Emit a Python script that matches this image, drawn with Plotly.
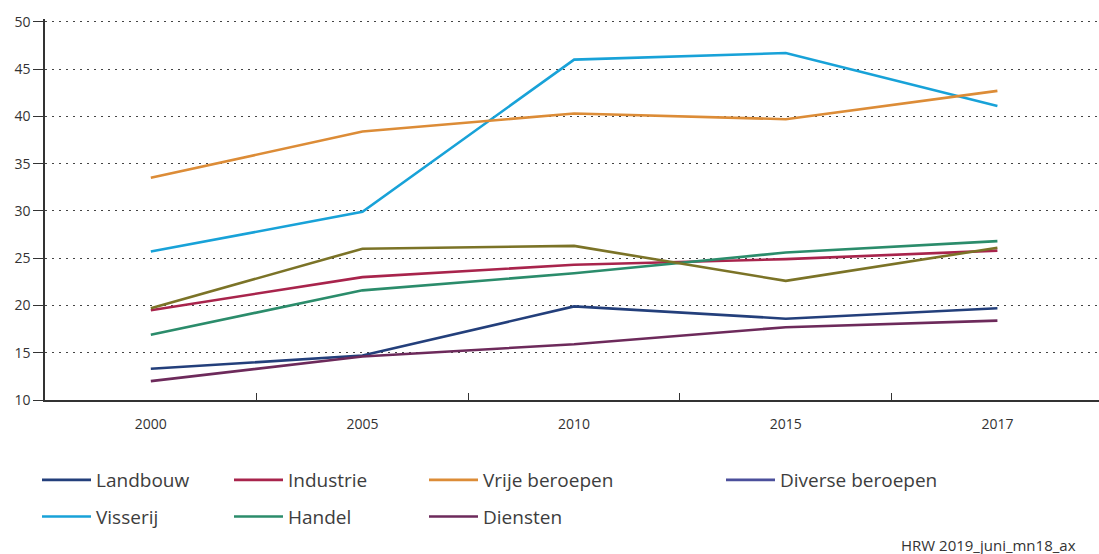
import plotly.graph_objects as go

years = ["2000", "2005", "2010", "2015", "2017"]

landbouw = [13.3, 14.7, 19.9, 18.6, 19.7]
visserij = [25.7, 29.9, 46.0, 46.7, 41.1]
industrie = [19.5, 23.0, 24.3, 24.9, 25.8]
handel = [16.9, 21.6, 23.4, 25.6, 26.8]
vrije_beroepen = [33.5, 38.4, 40.3, 39.7, 42.7]
diensten = [12.0, 14.6, 15.9, 17.7, 18.4]
diverse_beroepen = [19.7, 26.0, 26.3, 22.6, 26.1]

y_ticks = [10, 15, 20, 25, 30, 35, 40, 45, 50]

FONT = "Open Sans"
L, T, B = 45, 19, 154
W, H = 1099 - L, 554 - T - B
fig = go.Figure()

def add(name, values, color, legend, group, show=True):
    fig.add_trace(go.Scatter(
        x=years, y=values, name=name, mode="lines",
        line=dict(color=color, width=2.6),
        legend=legend, legendgroup=group, showlegend=show,
    ))

add("Landbouw", landbouw, "#233f7b", "legend", "a")
add("Visserij", visserij, "#18a2d8", "legend", "b")
add("Industrie", industrie, "#a8244c", "legend2", "c")
add("Handel", handel, "#2b8c6b", "legend2", "d")
add("Vrije beroepen", vrije_beroepen, "#dc8c37", "legend3", "e")
add("Diensten", diensten, "#6d2a5b", "legend3", "f")
# olive line drawn in the chart; legend swatch in the reference is blue-violet
add("Diverse beroepen", diverse_beroepen, "#7b7327", "legend4", "g", show=False)
fig.add_trace(go.Scatter(
    x=[years[0]], y=[None], name="Diverse beroepen", mode="lines",
    line=dict(color="#4b4f9b", width=2.6), legend="legend4", legendgroup="g",
))

def px_x(p):
    return (p - L) / W

def px_y(p):
    return (554 - B - p) / H

leg_common = dict(
    xref="paper", yref="paper", yanchor="top", xanchor="left",
    orientation="v", font=dict(family=FONT, size=19, color="#3d3d3d"),
    tracegroupgap=9, itemwidth=49, bgcolor="rgba(0,0,0,0)",
    traceorder="grouped",
)
y_leg = px_y(461)
fig.update_layout(
    width=1099, height=554,
    margin=dict(l=L, r=0, t=T, b=B, autoexpand=False),
    paper_bgcolor="white", plot_bgcolor="white",
    font=dict(family=FONT, size=14, color="#333333"),
    legend=dict(x=px_x(37), y=y_leg, **leg_common),
    legend2=dict(x=px_x(229), y=y_leg, **leg_common),
    legend3=dict(x=px_x(424), y=y_leg, **leg_common),
    legend4=dict(x=px_x(721), y=y_leg, **leg_common),
    xaxis=dict(
        type="category", range=[-0.5, 4.48],
        showline=True, linecolor="#333333", linewidth=1.5,
        ticks="inside", tickson="boundaries", ticklen=7, tickcolor="#333333",
        tickwidth=1.2, showgrid=False, ticklabelstandoff=10, tickangle=0,
        tickfont=dict(family=FONT, size=14, color="#333333"),
    ),
    yaxis=dict(
        range=[10, 50.3], tickvals=y_ticks,
        showline=True, linecolor="#333333", linewidth=1.5,
        ticks="outside", ticklen=10, tickcolor="#333333", tickwidth=1.2,
        showgrid=True, gridcolor="#444444", griddash="2px,5px", gridwidth=1.4,
        zeroline=False,
        tickfont=dict(family=FONT, size=14, color="#333333"),
    ),
    annotations=[dict(
        text="HRW 2019_juni_mn18_ax", xref="paper", yref="paper",
        x=px_x(1078), y=px_y(545), xanchor="right", yanchor="middle",
        showarrow=False,
        font=dict(family=FONT, size=15, color="#333333"),
    )],
)
fig.write_html(
    "out.html",
    config={"displayModeBar": False},
    post_script="document.body.style.margin='0';document.body.style.overflow='hidden';",
)
